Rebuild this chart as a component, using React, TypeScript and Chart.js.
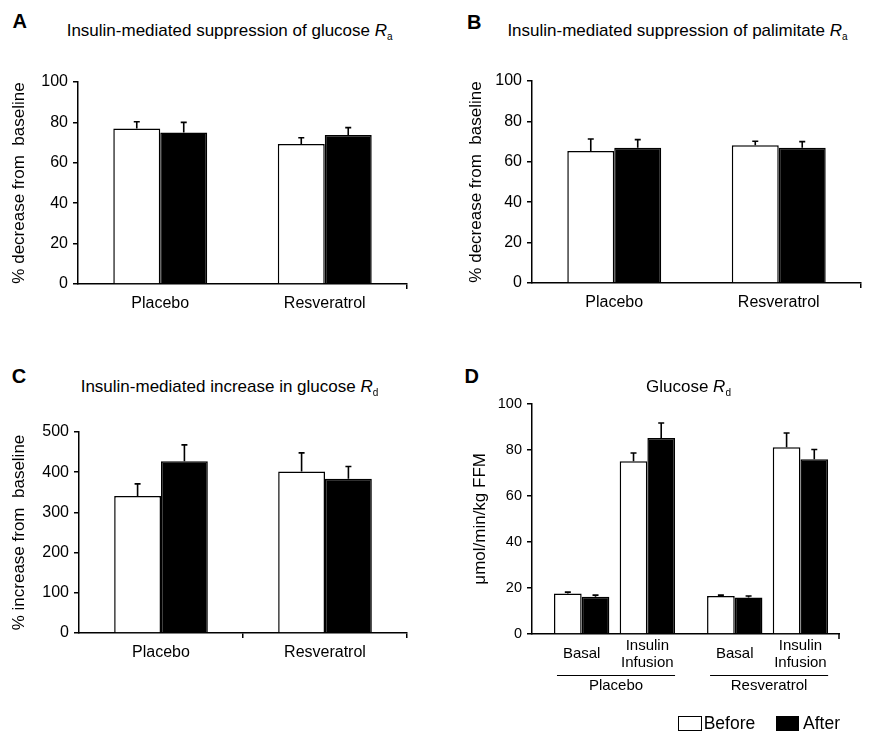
import React, { useEffect, useRef } from "react";
import { Chart, registerables } from "chart.js";

Chart.register(...registerables);

const FONT = "'Liberation Sans', Arial, Helvetica, sans-serif";

// ---------- data ----------
const seriesNames = ["Before", "After"];
const groupCategories = ["Placebo", "Resveratrol"];

// A: insulin-mediated suppression of glucose Ra (% decrease from baseline)
const glucoseRaBefore = [77, 69.3];
const glucoseRaBeforeErr = [3.3, 3.1];
const glucoseRaAfter = [75, 73.8];
const glucoseRaAfterErr = [5, 3.6];

// B: insulin-mediated suppression of palmitate Ra (% decrease from baseline)
const palmitateRaBefore = [65.3, 68.2];
const palmitateRaBeforeErr = [6, 2];
const palmitateRaAfter = [67, 67];
const palmitateRaAfterErr = [4, 3];

// C: insulin-mediated increase in glucose Rd (% increase from baseline)
const glucoseRdIncBefore = [341, 402];
const glucoseRdIncBeforeErr = [30, 46];
const glucoseRdIncAfter = [427, 384];
const glucoseRdIncAfterErr = [41, 30];

// D: glucose Rd (umol/min/kg FFM)
const dConditions = ["Basal", "Insulin Infusion", "Basal", "Insulin Infusion"];
const dGroups = ["Placebo", "Resveratrol"];
const glucoseRdBefore = [17.6, 75.0, 16.5, 81.1];
const glucoseRdBeforeErr = [0.6, 3.6, 0.4, 6.2];
const glucoseRdAfter = [16.2, 85.1, 15.9, 75.9];
const glucoseRdAfterErr = [0.7, 6.5, 0.6, 4.2];

const titleA = "Insulin-mediated suppression of glucose ";
const titleB = "Insulin-mediated suppression of palimitate ";
const titleC = "Insulin-mediated increase in glucose ";
const titleD = "Glucose ";

// ---------- layout (not data) ----------
const dSlots = [1, 2, 3.33, 4.33];
const dMin = 0.244;
const dMax = 4.917;

const errorBarPlugin = {
  id: "errorBars",
  afterDatasetsDraw(chart: any) {
    const { ctx } = chart;
    const y = chart.scales.y;
    chart.data.datasets.forEach((ds: any, i: number) => {
      const meta = chart.getDatasetMeta(i);
      const errs = ds.errors || [];
      meta.data.forEach((bar: any, j: number) => {
        const raw = ds.data[j];
        const v = typeof raw === "number" ? raw : raw.y;
        const top = y.getPixelForValue(v + errs[j]);
        ctx.save();
        ctx.strokeStyle = "#000";
        ctx.lineWidth = 1.6;
        ctx.beginPath();
        ctx.moveTo(bar.x, bar.y);
        ctx.lineTo(bar.x, top);
        ctx.moveTo(bar.x - 3, top);
        ctx.lineTo(bar.x + 3, top);
        ctx.stroke();
        ctx.restore();
      });
    });
  },
};

const dLabelsPlugin = {
  id: "dLabels",
  afterDraw(chart: any) {
    const { ctx } = chart;
    const xs = chart.scales.x;
    const base = chart.chartArea.bottom;
    ctx.save();
    ctx.fillStyle = "#000";
    ctx.strokeStyle = "#000";
    ctx.font = `15px ${FONT}`;
    ctx.textAlign = "center";
    ctx.textBaseline = "middle";
    // right end tick
    ctx.lineWidth = 1.5;
    ctx.beginPath();
    ctx.moveTo(xs.right, base);
    ctx.lineTo(xs.right, base + 5);
    ctx.stroke();
    dConditions.forEach((label, i) => {
      const x = xs.getPixelForValue(dSlots[i]);
      const lines = label.split(" ");
      if (lines.length === 1) ctx.fillText(lines[0], x, base + 19.5);
      else lines.forEach((ln, k) => ctx.fillText(ln, x, base + 11.5 + k * 17.5));
    });
    const m0 = chart.getDatasetMeta(0);
    const m1 = chart.getDatasetMeta(1);
    dGroups.forEach((g, gi) => {
      const first = m0.data[gi * 2];
      const last = m1.data[gi * 2 + 1];
      const l = first.x - first.width / 2 + 3;
      const r = last.x + last.width / 2;
      ctx.lineWidth = 1;
      ctx.beginPath();
      ctx.moveTo(l, base + 41.5);
      ctx.lineTo(r, base + 41.5);
      ctx.stroke();
      ctx.fillText(g, (l + r) / 2, base + 52);
    });
    ctx.restore();
  },
};

type PanelCfg = {
  box: { x: number; y: number; w: number; h: number };
  ca: { l: number; t: number; r: number; b: number };
  yTitle: string;
  yTitleX: number;
  yMax: number;
  yStep: number;
  yTickSize: number;
  middleTick: boolean;
  before: number[];
  beforeErr: number[];
  after: number[];
  afterErr: number[];
  kind: "category" | "d";
};

const X_HEIGHT = 40;
const Y_TITLE_SIZE = 17;

function buildConfig(p: PanelCfg): any {
  const yWidth = p.ca.l - p.box.x;
  const padT = p.ca.t - p.box.y;
  const padR = p.box.x + p.box.w - p.ca.r;
  const padB = p.box.y + p.box.h - p.ca.b - X_HEIGHT;
  const yTitlePad = p.yTitleX - p.box.x - (Y_TITLE_SIZE * 1.2) / 2;
  const isD = p.kind === "d";

  const beforeData = isD ? p.before.map((v, i) => ({ x: dSlots[i], y: v })) : p.before;
  const afterData = isD ? p.after.map((v, i) => ({ x: dSlots[i], y: v })) : p.after;

  const barCommon = {
    barPercentage: 1,
    categoryPercentage: isD ? 0.843 : 0.571,
    borderColor: "#000",
    borderWidth: 1.5,
  };

  const xScale: any = isD
    ? {
        type: "linear",
        min: dMin,
        max: dMax,
        offset: false,
        afterBuildTicks: (s: any) => {
          s.ticks = dSlots.map((v) => ({ value: v }));
        },
        ticks: { display: false },
        grid: { display: false, offset: false },
        border: { display: true, color: "#000", width: 1.5 },
        afterFit: (s: any) => {
          s.height = X_HEIGHT;
        },
      }
    : {
        type: "category",
        offset: true,
        ticks: { color: "#000", font: { family: FONT, size: 16 }, padding: 4.5 },
        grid: {
          display: true,
          offset: true,
          drawOnChartArea: false,
          drawTicks: true,
          tickLength: 5,
          lineWidth: 1.5,
          color: (c: any) =>
            c.index === 0 ? "rgba(0,0,0,0)" : c.index === 1 ? (p.middleTick ? "#000" : "rgba(0,0,0,0)") : "#000",
        },
        border: { display: true, color: "#000", width: 1.5 },
        afterFit: (s: any) => {
          s.height = X_HEIGHT;
        },
      };

  return {
    type: "bar",
    data: {
      labels: isD ? undefined : groupCategories,
      datasets: [
        {
          label: seriesNames[0],
          data: beforeData,
          errors: p.beforeErr,
          backgroundColor: "#fff",
          ...barCommon,
        },
        {
          label: seriesNames[1],
          data: afterData,
          errors: p.afterErr,
          backgroundColor: "#000",
          ...barCommon,
        },
      ],
    },
    options: {
      responsive: false,
      animation: false,
      devicePixelRatio: 1,
      layout: { padding: { left: 0, top: padT, right: padR, bottom: padB } },
      plugins: {
        legend: { display: false },
        tooltip: { enabled: false },
        title: { display: false },
      },
      scales: {
        x: xScale,
        y: {
          min: 0,
          max: p.yMax,
          ticks: {
            stepSize: p.yStep,
            color: "#000",
            font: { family: FONT, size: p.yTickSize },
            padding: 5,
          },
          grid: {
            display: true,
            drawOnChartArea: false,
            drawTicks: true,
            tickLength: 5,
            lineWidth: 1.5,
            color: "#000",
          },
          border: { display: true, color: "#000", width: 1.5 },
          title: {
            display: true,
            text: p.yTitle,
            color: "#000",
            font: { family: FONT, size: Y_TITLE_SIZE },
            padding: { top: yTitlePad, bottom: 0 },
          },
          afterFit: (s: any) => {
            s.width = yWidth;
          },
        },
      },
    },
    plugins: isD ? [errorBarPlugin, dLabelsPlugin] : [errorBarPlugin],
  };
}

const panels: PanelCfg[] = [
  {
    box: { x: 0, y: 50, w: 432, h: 282 },
    ca: { l: 78, t: 82, r: 407, b: 284 },
    yTitle: "% decrease from  baseline",
    yTitleX: 19,
    yMax: 100,
    yStep: 20,
    yTickSize: 16,
    middleTick: false,
    before: glucoseRaBefore,
    beforeErr: glucoseRaBeforeErr,
    after: glucoseRaAfter,
    afterErr: glucoseRaAfterErr,
    kind: "category",
  },
  {
    box: { x: 435, y: 50, w: 435, h: 282 },
    ca: { l: 532, t: 81, r: 861, b: 283 },
    yTitle: "% decrease from  baseline",
    yTitleX: 476.7,
    yMax: 100,
    yStep: 20,
    yTickSize: 16,
    middleTick: false,
    before: palmitateRaBefore,
    beforeErr: palmitateRaBeforeErr,
    after: palmitateRaAfter,
    afterErr: palmitateRaAfterErr,
    kind: "category",
  },
  {
    box: { x: 0, y: 400, w: 432, h: 282 },
    ca: { l: 79, t: 432, r: 407, b: 633 },
    yTitle: "% increase from  baseline",
    yTitleX: 19,
    yMax: 500,
    yStep: 100,
    yTickSize: 16,
    middleTick: true,
    before: glucoseRdIncBefore,
    beforeErr: glucoseRdIncBeforeErr,
    after: glucoseRdIncAfter,
    afterErr: glucoseRdIncAfterErr,
    kind: "category",
  },
  {
    box: { x: 435, y: 390, w: 435, h: 342 },
    ca: { l: 532, t: 403, r: 839, b: 634 },
    yTitle: "\u03bcmol/min/kg FFM",
    yTitleX: 480,
    yMax: 100,
    yStep: 20,
    yTickSize: 14.5,
    middleTick: false,
    before: glucoseRdBefore,
    beforeErr: glucoseRdBeforeErr,
    after: glucoseRdAfter,
    afterErr: glucoseRdAfterErr,
    kind: "d",
  },
];

function Panel({ cfg }: { cfg: PanelCfg }) {
  const ref = useRef<HTMLCanvasElement | null>(null);
  useEffect(() => {
    if (!ref.current) return;
    const chart = new Chart(ref.current, buildConfig(cfg));
    return () => chart.destroy();
  }, [cfg]);
  return (
    <canvas
      ref={ref}
      width={cfg.box.w}
      height={cfg.box.h}
      style={{
        position: "absolute",
        left: cfg.box.x,
        top: cfg.box.y,
        width: cfg.box.w,
        height: cfg.box.h,
      }}
    />
  );
}

function Letter({ text, left, top }: { text: string; left: number; top: number }) {
  return (
    <div
      style={{
        position: "absolute",
        left,
        top,
        fontSize: 20,
        lineHeight: "20px",
        fontWeight: "bold",
        whiteSpace: "nowrap",
      }}
    >
      {text}
    </div>
  );
}

function Title({ text, sub, left, top }: { text: string; sub: string; left: number; top: number }) {
  return (
    <div
      style={{
        position: "absolute",
        left,
        top,
        fontSize: 17,
        lineHeight: "17px",
        whiteSpace: "pre",
      }}
    >
      {text}
      <i>R</i>
      <span style={{ fontSize: 10, position: "relative", top: 4 }}>{sub}</span>
    </div>
  );
}

export default function App() {
  return (
    <div
      style={{
        position: "fixed",
        left: 0,
        top: 0,
        width: 870,
        height: 732,
        background: "#fff",
        color: "#000",
        fontFamily: FONT,
        overflow: "hidden",
      }}
    >
      {panels.map((p, i) => (
        <Panel key={i} cfg={p} />
      ))}
      <Letter text="A" left={12.5} top={11.4} />
      <Letter text="B" left={467} top={12.4} />
      <Letter text="C" left={11.7} top={366.4} />
      <Letter text="D" left={464.5} top={366.4} />
      <Title text={titleA} sub="a" left={66.7} top={21.8} />
      <Title text={titleB} sub="a" left={507.4} top={21.8} />
      <Title text={titleC} sub="d" left={80.7} top={377.8} />
      <Title text={titleD} sub="d" left={646} top={377.8} />
      <div
        style={{
          position: "absolute",
          left: 678,
          top: 716,
          width: 24,
          height: 15,
          boxSizing: "border-box",
          border: "1.5px solid #000",
          background: "#fff",
        }}
      />
      <div style={{ position: "absolute", left: 703.7, top: 714.7, fontSize: 17.5, lineHeight: "17.5px" }}>
        {seriesNames[0]}
      </div>
      <div
        style={{
          position: "absolute",
          left: 776,
          top: 716,
          width: 23,
          height: 15,
          background: "#000",
        }}
      />
      <div style={{ position: "absolute", left: 803, top: 714.7, fontSize: 17.5, lineHeight: "17.5px" }}>
        {seriesNames[1]}
      </div>
    </div>
  );
}
